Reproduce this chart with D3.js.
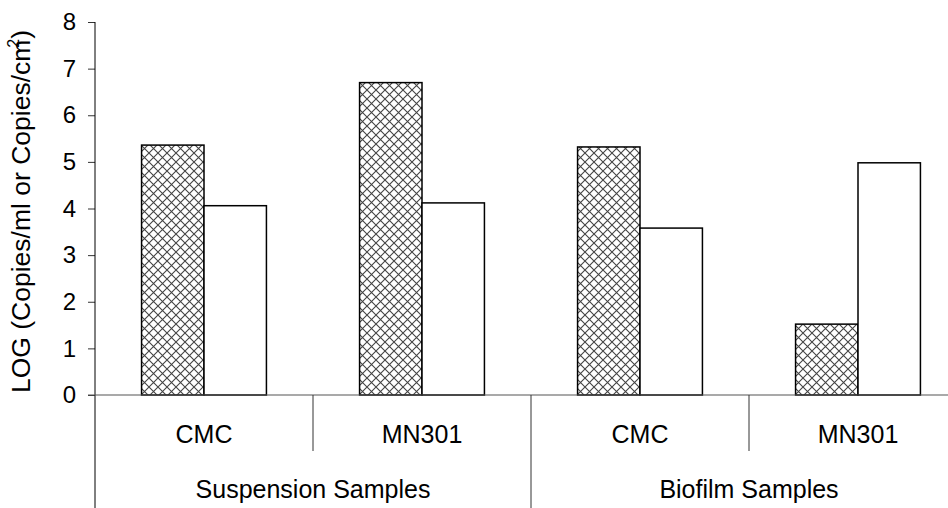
<!DOCTYPE html>
<html>
<head>
<meta charset="utf-8">
<script src="https://d3js.org/d3.v7.min.js"></script>
<style>
body { margin: 0; background: #fff; }
svg text { font-family: "Liberation Sans", Arial, sans-serif; fill: #000; }
</style>
</head>
<body>
<svg id="chart"></svg>
<script>
var width = 948, height = 508;

var categories = ["CMC", "MN301", "CMC", "MN301"];
var groups = ["Suspension Samples", "Biofilm Samples"];
var seriesHatched = [5.36, 6.7, 5.32, 1.52];
var seriesWhite = [4.06, 4.12, 3.58, 4.98];
var yTicks = [0, 1, 2, 3, 4, 5, 6, 7, 8];

// note: "top" is a reserved window property, so use a margin object
var m = {left: 95, top: 22, bottom: 395};
var catWidth = 218;

var svg = d3.select("#chart").attr("width", width).attr("height", height);

// crosshatch pattern
var pat = svg.append("defs").append("pattern")
    .attr("id", "hatch")
    .attr("patternUnits", "userSpaceOnUse")
    .attr("width", 9).attr("height", 9);
pat.append("rect").attr("width", 9).attr("height", 9).attr("fill", "#fff");
pat.append("path").attr("d", "M0,0 L9,9 M9,0 L0,9")
    .attr("stroke", "#444").attr("stroke-width", 1.1);

var x = d3.scaleBand()
    .domain(d3.range(categories.length))
    .range([m.left, m.left + catWidth * categories.length]);

var y = d3.scaleLinear().domain([0, 8]).range([m.bottom, m.top]);

var inner = d3.scaleBand()
    .domain([0, 1])
    .range([0, catWidth])
    .paddingInner(0)
    .paddingOuter(0.746);

var bw = inner.bandwidth();

// bars
var cats = svg.selectAll("g.cat")
    .data(d3.range(categories.length))
    .enter().append("g")
    .attr("class", "cat")
    .attr("transform", function(i) { return "translate(" + x(i) + ",0)"; });

cats.append("rect")
    .attr("x", inner(0))
    .attr("y", function(i) { return y(seriesHatched[i]); })
    .attr("width", bw)
    .attr("height", function(i) { return m.bottom - y(seriesHatched[i]); })
    .attr("fill", "url(#hatch)")
    .attr("stroke", "#000").attr("stroke-width", 1.5);

cats.append("rect")
    .attr("x", inner(1))
    .attr("y", function(i) { return y(seriesWhite[i]); })
    .attr("width", bw)
    .attr("height", function(i) { return m.bottom - y(seriesWhite[i]); })
    .attr("fill", "#fff")
    .attr("stroke", "#000").attr("stroke-width", 1.5);

// y axis
var yAxis = d3.axisLeft(y).tickValues(yTicks).tickSize(7).tickPadding(12);
var ya = svg.append("g").attr("transform", "translate(" + m.left + ",0)").call(yAxis);
ya.select(".domain").remove();
ya.selectAll("line").attr("stroke", "#333");
ya.selectAll("text").style("font-size", "24px").attr("fill", "#000");

svg.append("line")
    .attr("x1", m.left).attr("x2", m.left)
    .attr("y1", m.top).attr("y2", height)
    .attr("stroke", "#000").attr("stroke-width", 1);

// x axis baseline
svg.append("line")
    .attr("x1", m.left - 7).attr("x2", width)
    .attr("y1", y(0)).attr("y2", y(0))
    .attr("stroke", "#555").attr("stroke-width", 1.2);

// category separators
d3.range(1, categories.length).forEach(function(i) {
  var full = (i % 2 === 0);
  svg.append("line")
    .attr("x1", x(i)).attr("x2", x(i))
    .attr("y1", m.bottom).attr("y2", full ? height : 451)
    .attr("stroke", "#333").attr("stroke-width", 1);
});

// category labels
svg.selectAll("text.cat")
    .data(categories)
    .enter().append("text")
    .attr("class", "cat")
    .attr("x", function(d, i) { return x(i) + catWidth / 2; })
    .attr("y", 443)
    .attr("text-anchor", "middle")
    .style("font-size", "25px")
    .text(function(d) { return d; });

// group labels
svg.selectAll("text.grp")
    .data(groups)
    .enter().append("text")
    .attr("class", "grp")
    .attr("x", function(d, i) { return x(i * 2) + catWidth; })
    .attr("y", 498)
    .attr("text-anchor", "middle")
    .style("font-size", "25px")
    .text(function(d) { return d; });

// y title
var yt = svg.append("text")
    .attr("transform", "translate(30," + ((m.top + m.bottom) / 2 + 3) + ") rotate(-90)")
    .attr("text-anchor", "middle")
    .style("font-size", "26.5px");
yt.append("tspan").text("LOG (Copies/ml or Copies/cm");
yt.append("tspan").attr("dy", -11).attr("dx", -8).style("font-size", "16px").text("2");
yt.append("tspan").attr("dy", 11).text(")");
</script>
</body>
</html>
